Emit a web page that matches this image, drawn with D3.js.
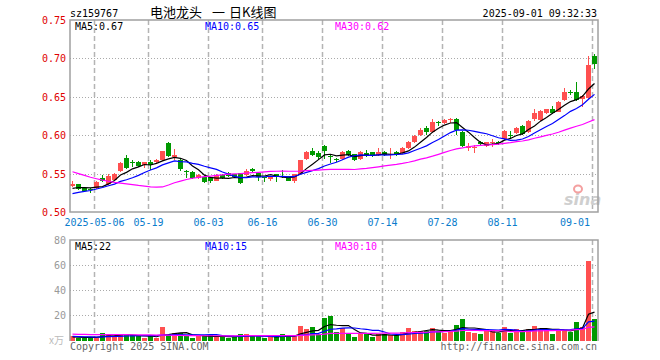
<!DOCTYPE html>
<html><head><meta charset="utf-8">
<script src="https://cdn.jsdelivr.net/npm/d3@7"></script>
<style>body{margin:0;background:#fff}svg{display:block}</style>
</head><body><svg id="c" width="660" height="360"></svg>
<script>
const code = "sz159767";
const titleParts = ["电池龙头", "一", "日K线图"];
const stamp = "2025-09-01 09:32:33";
const dates = ["04-25","04-28","04-29","04-30",
"05-06","05-07","05-08","05-09","05-12","05-13","05-14","05-15","05-16","05-19","05-20","05-21","05-22","05-23","05-26","05-27","05-28","05-29","05-30",
"06-03","06-04","06-05","06-06","06-09","06-10","06-11","06-12","06-13","06-16","06-17","06-18","06-19","06-20","06-23","06-24","06-25","06-26","06-27","06-30",
"07-01","07-02","07-03","07-04","07-07","07-08","07-09","07-10","07-11","07-14","07-15","07-16","07-17","07-18","07-21","07-22","07-23","07-24","07-25","07-28","07-29","07-30","07-31",
"08-01","08-04","08-05","08-06","08-07","08-08","08-11","08-12","08-13","08-14","08-15","08-18","08-19","08-20","08-21","08-22","08-25","08-26","08-27","08-28","08-29",
"09-01"];
const tickDates = ["05-06","05-19","06-03","06-16","06-30","07-14","07-28","08-11","09-01"];
const tickLabels = ["2025-05-06","05-19","06-03","06-16","06-30","07-14","07-28","08-11","09-01"];
const priceTicks = [0.75,0.70,0.65,0.60,0.55,0.50];
const volTicks = [80,60,40,20];
const open = [0.534,0.536,0.531,0.530,0.531,0.5445,0.536,0.5416,0.5534,0.570,0.565,0.5655,0.561,0.5655,0.5646,0.5677,0.590,0.572,0.5677,0.5535,0.5525,0.5438,0.545,0.545,0.5408,0.548,0.5503,0.5495,
0.5503,0.5481,0.556,0.5503,0.5455,0.5425,0.5495,0.547,0.5468,0.5408,0.5495,0.5685,0.5798,0.5772,0.586,0.5726,0.569,0.5685,0.5798,0.5755,0.5685,0.5772,0.5777,0.5742,0.5785,0.574,0.5785,0.5764,0.5829,0.5915,
0.600,0.6099,0.6046,0.6175,0.6164,0.6203,0.6211,0.6038,0.5829,0.5845,0.5916,0.586,0.591,0.591,0.5947,0.6005,0.6033,0.612,0.6046,0.6207,0.6198,0.6294,0.6337,0.6307,0.6459,0.6559,0.6567,0.6467,0.648,0.7032];
const high = [0.541,0.537,0.532,0.531,0.540,0.548,0.550,0.551,0.565,0.574,0.5677,0.566,0.565,0.5677,0.5685,0.580,0.591,0.582,0.569,0.5547,0.553,0.549,0.546,0.546,0.549,0.549,0.552,0.550,
0.551,0.556,0.557,0.551,0.546,0.547,0.550,0.5547,0.547,0.550,0.568,0.580,0.583,0.580,0.587,0.574,0.570,0.580,0.581,0.576,0.579,0.5807,0.5785,0.5829,0.580,0.5829,0.579,0.584,0.5925,0.600,
0.609,0.612,0.6207,0.6185,0.6205,0.622,0.622,0.605,0.5895,0.5873,0.5925,0.5915,0.5947,0.5925,0.6065,0.6059,0.611,0.613,0.620,0.6337,0.633,0.6345,0.638,0.645,0.661,0.6589,0.6698,0.652,0.7032,0.7058];
const low = [0.533,0.528,0.526,0.525,0.530,0.539,0.535,0.540,0.552,0.556,0.559,0.558,0.557,0.5547,0.563,0.566,0.572,0.568,0.554,0.544,0.543,0.543,0.5373,0.538,0.540,0.543,0.546,0.544,
0.537,0.547,0.552,0.540,0.5386,0.541,0.5395,0.5438,0.540,0.5373,0.549,0.568,0.573,0.5677,0.569,0.564,0.5655,0.568,0.573,0.566,0.568,0.572,0.572,0.573,0.573,0.5685,0.573,0.575,0.582,0.590,
0.599,0.6003,0.603,0.612,0.615,0.6164,0.6003,0.585,0.5799,0.5773,0.587,0.585,0.5851,0.5873,0.594,0.5947,0.602,0.600,0.603,0.619,0.619,0.628,0.628,0.630,0.645,0.6524,0.645,0.6372,0.647,0.6858];
const close = [0.537,0.5295,0.527,0.529,0.5395,0.5405,0.5468,0.5495,0.5642,0.557,0.5635,0.560,0.5646,0.561,0.5677,0.5794,0.573,0.574,0.5555,0.553,0.544,0.5481,0.5395,0.5408,0.5481,0.544,0.5468,0.545,
0.5382,0.5538,0.553,0.545,0.5445,0.5468,0.545,0.546,0.5408,0.5495,0.5677,0.5785,0.5742,0.5712,0.580,0.572,0.5685,0.5785,0.5742,0.5677,0.5777,0.5742,0.5742,0.5785,0.5742,0.575,0.5742,0.5829,0.5915,0.5989,
0.607,0.6046,0.6177,0.6168,0.6198,0.6207,0.6068,0.586,0.5864,0.5851,0.5886,0.5908,0.5916,0.5907,0.6059,0.600,0.6099,0.6016,0.619,0.6294,0.6316,0.6337,0.6294,0.6437,0.6567,0.6555,0.6459,0.6511,0.6914,0.6928];
const volume = [3.2,2.2,2.2,2.2,2.3,6.2,5.2,3.2,4.0,5.2,4.0,3.2,2.2,3.2,2.3,11.0,5.2,5.8,5.8,3.2,2.2,4.0,3.2,4.0,3.2,3.2,2.2,3.2,
4.8,5.2,3.2,3.2,1.7,3.2,3.2,4.8,3.2,3.2,11.8,9.4,11.0,5.2,18.3,19.6,6.5,9.8,5.2,2.7,5.8,5.2,2.7,4.8,5.2,4.0,4.0,6.5,10.3,7.3,
7.8,7.8,10.3,7.8,5.8,7.8,12.4,17.2,6.5,5.8,4.8,9.0,7.8,5.8,10.9,5.8,9.0,8.3,9.0,11.7,9.5,9.0,5.5,8.5,8.5,7.0,15.0,11.0,63.0,17.0];
// 29 sessions before the first shown candle (only used for moving averages)
const prevClose = [0.600,0.598,0.602,0.597,0.594,0.590,0.592,0.595,0.588,0.590,0.593,0.589,0.590,0.584,
0.570,0.495,0.488,0.492,0.490,0.495,0.512,0.515,0.518,0.520,0.520,0.524,0.528,0.530,0.535];
const prevVolume = [5,4.5,5,5.5,4.8,4.6,5.2,4.9,5,4.7,4.5,5.1,4.8,5,7,12,9,8,6,6,4.5,4,3.8,3.7,3.6,3,2.8,2.6,2.6];

const UP = "#ff5050", DOWN = "#009900";
const svg = d3.select("#c");
svg.append("rect").attr("width",660).attr("height",360).attr("fill","#fff");
const L = 70, R = 598;
const x = d3.scaleBand().domain(dates).range([L, R]).padding(0);
const y = d3.scaleLinear().domain([0.50, 0.75]).range([212, 20]);
const yv = d3.scaleLinear().domain([0, 80]).range([340.5, 240]);
const mono = "DejaVu Sans Mono, monospace";

function ma(series, prev, n) {
  const all = prev.concat(series);
  return series.map((_, i) => d3.mean(all.slice(i + prev.length - n + 1, i + prev.length + 1)));
}

// gridlines
function vgrid(top, bottom) {
  svg.append("g").selectAll("line").data(tickDates).join("line")
    .attr("x1", d => x(d) + 0.5).attr("x2", d => x(d) + 0.5)
    .attr("y1", top).attr("y2", bottom)
    .attr("stroke", "#b4b4b4").attr("stroke-width", 1.5).attr("stroke-dasharray", "5,3");
}
vgrid(20, 212); vgrid(240, 340);
svg.append("g").selectAll("line").data(priceTicks.slice(1, -1)).join("line")
  .attr("x1", L).attr("x2", R).attr("y1", d => Math.round(y(d)) + 0.5).attr("y2", d => Math.round(y(d)) + 0.5)
  .attr("stroke", "#aaa").attr("stroke-dasharray", "1,2");
svg.append("g").selectAll("line").data(volTicks.slice(1)).join("line")
  .attr("x1", L).attr("x2", R).attr("y1", d => Math.round(yv(d)) + 0.5).attr("y2", d => Math.round(yv(d)) + 0.5)
  .attr("stroke", "#aaa").attr("stroke-dasharray", "1,2");

// sina watermark
const wm = svg.append("g");
wm.append("text").attr("x", 564).attr("y", 205).text("sina")
  .attr("font-family", "DejaVu Sans, sans-serif").attr("font-size", 16).attr("font-weight", "bold")
  .attr("font-style", "italic").attr("fill", "#cfcfcf");
wm.append("ellipse").attr("cx", 578).attr("cy", 189).attr("rx", 4).attr("ry", 3.5)
  .attr("fill", "none").attr("stroke", "#f4a0a0").attr("stroke-width", 2);

// candles
const idx = d3.range(dates.length);
const cg = svg.append("g").attr("shape-rendering", "crispEdges");
cg.selectAll("line").data(idx).join("line")
  .attr("x1", i => x(dates[i]) + 2.5).attr("x2", i => x(dates[i]) + 2.5)
  .attr("y1", i => y(high[i])).attr("y2", i => y(low[i]))
  .attr("stroke", i => close[i] >= open[i] ? UP : DOWN);
cg.selectAll("rect").data(idx).join("rect")
  .attr("x", i => x(dates[i])).attr("width", 5)
  .attr("y", i => y(Math.max(open[i], close[i])))
  .attr("height", i => Math.max(1, Math.abs(y(open[i]) - y(close[i]))))
  .attr("fill", i => close[i] >= open[i] ? UP : DOWN);

// volume bars
svg.append("g").attr("shape-rendering", "crispEdges").selectAll("rect").data(idx).join("rect")
  .attr("x", i => x(dates[i])).attr("width", 5)
  .attr("y", i => yv(volume[i])).attr("height", i => yv(0) - yv(volume[i]))
  .attr("fill", i => close[i] >= open[i] ? UP : DOWN);

// moving averages
const maDefs = [[5, "#000"], [10, "#0000ff"], [30, "#ff00ff"]];
const pMA = maDefs.map(([n]) => ma(close, prevClose, n));
const vMA = maDefs.map(([n]) => ma(volume, prevVolume, n));
maDefs.forEach(([n, col], k) => {
  const lp = d3.line().x((d, i) => x(dates[i]) + 2.5).y(d => y(d));
  const lv = d3.line().x((d, i) => x(dates[i]) + 2.5).y(d => yv(d));
  svg.append("path").attr("d", lp(pMA[k])).attr("fill", "none").attr("stroke", col).attr("stroke-width", 1.2);
  svg.append("path").attr("d", lv(vMA[k])).attr("fill", "none").attr("stroke", col).attr("stroke-width", 1.2);
});

// frames
svg.append("rect").attr("x", L).attr("y", 20).attr("width", R - L).attr("height", 192)
  .attr("fill", "none").attr("stroke", "#a0a0a0").attr("stroke-width", 1.5);
svg.append("path").attr("d", `M${L},341 V240 H${R} V341`).attr("fill", "none")
  .attr("stroke", "#a0a0a0").attr("stroke-width", 1.5);

// texts
function txt(s, px, py, col, anchor, size, fam) {
  return svg.append("text").attr("x", px).attr("y", py).text(s)
    .attr("fill", col).attr("text-anchor", anchor || "start")
    .attr("font-size", size || 10).attr("font-family", fam || mono);
}
txt(code, 70, 16.5, "#000");
const tt = svg.append("text").attr("y", 17).attr("fill", "#000").attr("font-size", 13)
  .attr("font-family", "Noto Sans CJK SC, sans-serif");
const titleX = [150, 212, 229];
titleParts.forEach((s, k) => tt.append("tspan").attr("x", titleX[k]).text(s));
txt(stamp, 597, 16.5, "#000", "end");
priceTicks.forEach(t => txt(t.toFixed(2), 66, y(t) + 4, "#e00000", "end"));
volTicks.forEach(t => txt(String(t), 66, yv(t) + 3.5, "#999", "end"));
txt("x万", 64, 344, "#bbb", "end", 10, "Noto Sans CJK SC, sans-serif");
const last = close.length - 1;
const maX = [75, 205, 335];
maDefs.forEach(([n, col], k) => {
  txt(`MA${n}:${pMA[k][last].toFixed(2)}`, maX[k], 30, col);
  txt(`MA${n}:${Math.floor(vMA[k][last])}`, maX[k], 249.5, col);
});
tickDates.forEach((d, k) => {
  const t = txt(tickLabels[k], x(d) + 0.5, 225.5, "#0a7ccc", "middle");
  const w = t.node().getComputedTextLength();
  if (x(d) + w / 2 > 592) t.attr("text-anchor", "end").attr("x", 590);
});
txt("Copyright 2025 SINA.COM", 70, 349.5, "#666");
txt("http://finance.sina.com.cn", 597, 349.5, "#666", "end");
</script></body></html>
